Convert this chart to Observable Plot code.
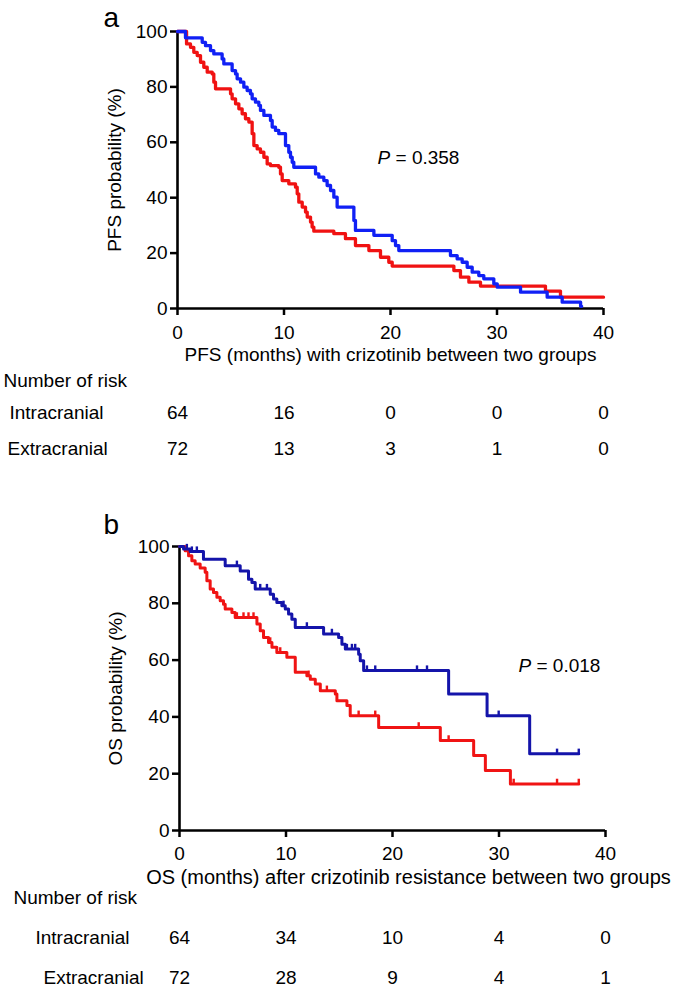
<!DOCTYPE html>
<html>
<head>
<meta charset="utf-8">
<script src="https://cdn.jsdelivr.net/npm/d3@7"></script>
<script src="https://cdn.jsdelivr.net/npm/@observablehq/plot@0.6"></script>
<style>
  html, body { margin: 0; padding: 0; background: white; }
  #fig { width: 674px; height: 992px; position: relative; }
  #fig svg { display: block; }
</style>
</head>
<body>
<div id="fig"></div>
<script>
// ---------- data ----------
const xTicks = [0, 10, 20, 30, 40];
const yTicks = [0, 20, 40, 60, 80, 100];
const riskTimes = [0, 10, 20, 30, 40];
const groupNames = ["Intracranial", "Extracranial"];

// Panel a: PFS (time in months, survival %)
const pfsBlue = [[0,100],[0.75,97.7],[2.32,96.1],[2.63,94.9],[3.10,93.1],[3.41,91.9],[4.19,90.1],[4.35,88.3],[5.13,85.9],[5.45,84.7],[5.60,82.9],[5.92,81.7],[6.23,79.9],[6.54,78.7],[6.85,77.5],[7.01,75.7],[7.32,74.5],[7.64,73.3],[7.79,71.5],[8.11,69.7],[8.73,67.9],[8.89,65.5],[9.20,64.3],[9.51,63.1],[10.14,58.8],[10.45,56.4],[10.61,54.6],[10.77,52.8],[10.92,51.0],[12.96,48.6],[13.27,47.4],[13.74,46.2],[14.05,44.4],[14.37,42.6],[14.68,40.2],[14.99,36.6],[16.56,31.8],[16.71,28.2],[18.44,26.4],[20.16,24.5],[20.47,22.7],[20.78,20.9],[25.63,19.1],[26.26,17.9],[26.73,16.7],[27.20,14.9],[27.67,13.1],[28.29,11.9],[28.76,10.7],[29.70,8.9],[30.02,7.7],[32.21,5.9],[34.71,4.1],[36.12,2.3],[37.85,0.8],[37.95,0.8]];
const pfsRed = [[0,100],[0.85,95.5],[1.22,94.3],[1.53,92.5],[1.85,91.3],[2.16,88.9],[2.47,87.1],[2.79,85.3],[3.26,84.7],[3.41,81.7],[3.57,79.3],[4.98,77.5],[5.13,75.7],[5.45,73.9],[5.76,72.1],[6.07,70.3],[6.38,68.5],[6.70,67.3],[7.01,63.1],[7.17,58.8],[7.48,57.6],[7.79,56.4],[8.11,54.6],[8.42,52.2],[8.73,51.6],[9.51,51.0],[9.67,48.6],[9.83,46.2],[10.45,45.0],[11.08,43.8],[11.24,41.4],[11.39,38.4],[11.71,36.6],[12.02,34.8],[12.18,33.0],[12.49,31.2],[12.64,29.4],[12.80,27.9],[14.68,27.0],[15.77,25.2],[16.71,22.7],[17.97,20.9],[19.06,18.5],[19.84,16.7],[20.16,15.3],[25.95,13.7],[26.57,11.3],[27.36,9.5],[28.45,8.1],[34.55,6.3],[35.96,4.1],[40,4.1]];
const pfsRiskIntra = [64, 16, 0, 0, 0];
const pfsRiskExtra = [72, 13, 3, 1, 0];

// Panel b: OS
const osBlue = [[0,100],[0.38,99.1],[1.0,98.2],[2.25,95.5],[4.29,93.2],[5.70,91.4],[6.48,88.5],[6.80,87.3],[7.11,85.0],[8.52,83.2],[8.83,81.5],[9.14,80.3],[9.61,79.1],[9.93,78.0],[10.24,76.2],[10.55,74.4],[10.87,71.5],[13.53,69.2],[14.94,68.0],[15.25,65.6],[15.57,63.9],[16.82,62.1],[16.97,59.8],[17.29,56.3],[25.27,48.1],[28.88,40.4],[32.88,27.0],[37.49,27.0]];
const osRed = [[0,100],[0.53,98.5],[0.85,96.7],[1.16,95.0],[1.47,93.8],[1.94,92.4],[2.41,90.9],[2.57,87.9],[2.88,85.0],[3.19,83.8],[3.51,82.1],[3.82,80.9],[4.13,79.7],[4.29,78.0],[4.92,76.8],[5.23,75.0],[7.27,72.7],[7.58,70.3],[7.89,68.0],[8.36,66.2],[8.68,64.5],[9.14,62.7],[10.08,61.0],[10.87,55.7],[11.96,54.5],[12.28,53.3],[12.75,51.6],[13.22,49.2],[14.63,48.1],[14.78,45.7],[15.72,44.0],[16.03,40.4],[18.70,36.3],[24.49,31.7],[27.62,26.4],[28.72,21.1],[31.07,16.4],[37.49,16.4]];
const osBlueCensor = [0.69,1.16,1.63,5.39,7.58,8.21,9.77,11.96,14.31,15.72,16.19,16.50,17.60,18.38,22.30,23.24,29.97,35.45,37.49];
const osRedCensor = [5.39,6.01,6.48,6.95,8.52,9.46,12.12,13.84,16.82,18.38,22.46,25.27,31.38,35.45,37.49];
const osRiskIntra = [64, 34, 10, 4, 0];
const osRiskExtra = [72, 28, 9, 4, 1];

// ---------- helpers ----------
const FONT = 'Arial, "Liberation Sans", sans-serif';
function survAt(curve, t) {
  let v = curve[0][1];
  for (const [x, y] of curve) { if (x <= t + 1e-9) v = y; else break; }
  return v;
}
const censorTick = {
  draw(context, size) {
    const r = Math.sqrt(size / Math.PI);
    context.moveTo(0, 0);
    context.lineTo(0, -2.6 * r);
  }
};

function panel(o) {
  const marks = [
    Plot.axisX({ticks: xTicks, tickSize: 7, tickPadding: o.xPad, strokeWidth: 2.5, label: null}),
    Plot.axisY({ticks: yTicks, tickSize: 7, tickPadding: 3, strokeWidth: 2.5,
      label: o.yLabel, labelAnchor: "center", labelOffset: o.yLabelOffset, labelArrow: "none"}),
    Plot.ruleX([0], {strokeWidth: 2.6}),
    Plot.ruleY([0], {strokeWidth: 2.6}),
    Plot.line(o.red, {x: d => d[0], y: d => d[1], curve: "step-after", stroke: o.redColor, strokeWidth: o.lw}),
    Plot.line(o.blue, {x: d => d[0], y: d => d[1], curve: "step-after", stroke: o.blueColor, strokeWidth: o.lw}),
  ];
  if (o.redCensor) {
    marks.push(Plot.dot(o.redCensor.map(t => ({t, s: survAt(o.red, t)})),
      {x: "t", y: "s", symbol: censorTick, r: 2, stroke: o.redColor, strokeWidth: 2.4, fill: "none"}));
    marks.push(Plot.dot(o.blueCensor.map(t => ({t, s: survAt(o.blue, t)})),
      {x: "t", y: "s", symbol: censorTick, r: 2, stroke: o.blueColor, strokeWidth: 2.4, fill: "none"}));
  }
  marks.push(
    Plot.text([o.pPos], {x: "x", y: "y", text: () => "P", textAnchor: "start", fontStyle: "italic"}),
    Plot.text([o.pPos], {x: "x", y: "y", text: () => o.pValue, textAnchor: "start", dx: 18}),
    Plot.text([o.letter], {text: d => d, frameAnchor: "top-left", textAnchor: "start", lineAnchor: "bottom",
      dx: o.letterDx, dy: o.letterDy, fontSize: 28}),
    Plot.text([o.xTitle], {text: d => d, frameAnchor: "bottom", dx: o.titleDx, dy: o.titleDy, fontSize: o.titleSize}),
    Plot.text(["Number of risk"], {text: d => d, frameAnchor: "bottom-left", textAnchor: "start", dx: o.nrDx, dy: o.nrDy}),
    Plot.text([groupNames[0]], {text: d => d, frameAnchor: "bottom-left", textAnchor: "start", dx: o.r1Dx, dy: o.r1Dy}),
    Plot.text([groupNames[1]], {text: d => d, frameAnchor: "bottom-left", textAnchor: "start", dx: o.r2Dx, dy: o.r2Dy}),
    Plot.text(riskTimes, {x: d => d, text: (d, i) => String(o.riskIntra[i]), frameAnchor: "bottom", dy: o.r1Dy}),
    Plot.text(riskTimes, {x: d => d, text: (d, i) => String(o.riskExtra[i]), frameAnchor: "bottom", dy: o.r2Dy})
  );
  return Plot.plot({
    width: 674, height: o.height,
    marginTop: o.mt, marginBottom: o.mb, marginLeft: o.ml, marginRight: o.mr,
    x: {domain: [0, 40]},
    y: {domain: [0, 100]},
    style: {fontFamily: FONT, fontSize: "19px", color: "black", background: "white", overflow: "visible"},
    marks
  });
}

const fig = document.getElementById("fig");
fig.append(panel({
  height: 490, mt: 31, mb: 182, ml: 177, mr: 71,
  blue: pfsBlue, red: pfsRed, blueColor: "#1020f5", redColor: "#f01212", lw: 3.3,
  yLabel: "PFS probability (%)", yLabelOffset: 70, xPad: 10,
  pPos: {x: 18.78, y: 54.5}, pValue: "= 0.358",
  letter: "a", letterDx: -74, letterDy: -5,
  xTitle: "PFS (months) with crizotinib between two groups", titleDx: 0, titleDy: 52, titleSize: 19,
  nrDx: -174, nrDy: 78, r1Dx: -168, r1Dy: 110, r2Dx: -170, r2Dy: 146,
  riskIntra: pfsRiskIntra, riskExtra: pfsRiskExtra
}));
fig.append(panel({
  height: 502, mt: 56, mb: 162, ml: 179, mr: 69,
  blue: osBlue, red: osRed, blueColor: "#1414aa", redColor: "#f01414", lw: 3,
  blueCensor: osBlueCensor, redCensor: osRedCensor,
  yLabel: "OS probability (%)", yLabelOffset: 71, xPad: 9,
  pPos: {x: 31.83, y: 58.1}, pValue: "= 0.018",
  letter: "b", letterDx: -76, letterDy: -13,
  xTitle: "OS (months) after crizotinib resistance between two groups", titleDx: 16, titleDy: 53, titleSize: 20,
  nrDx: -166, nrDy: 73, r1Dx: -144, r1Dy: 113, r2Dx: -136, r2Dy: 153,
  riskIntra: osRiskIntra, riskExtra: osRiskExtra
}));
</script>
</body>
</html>
